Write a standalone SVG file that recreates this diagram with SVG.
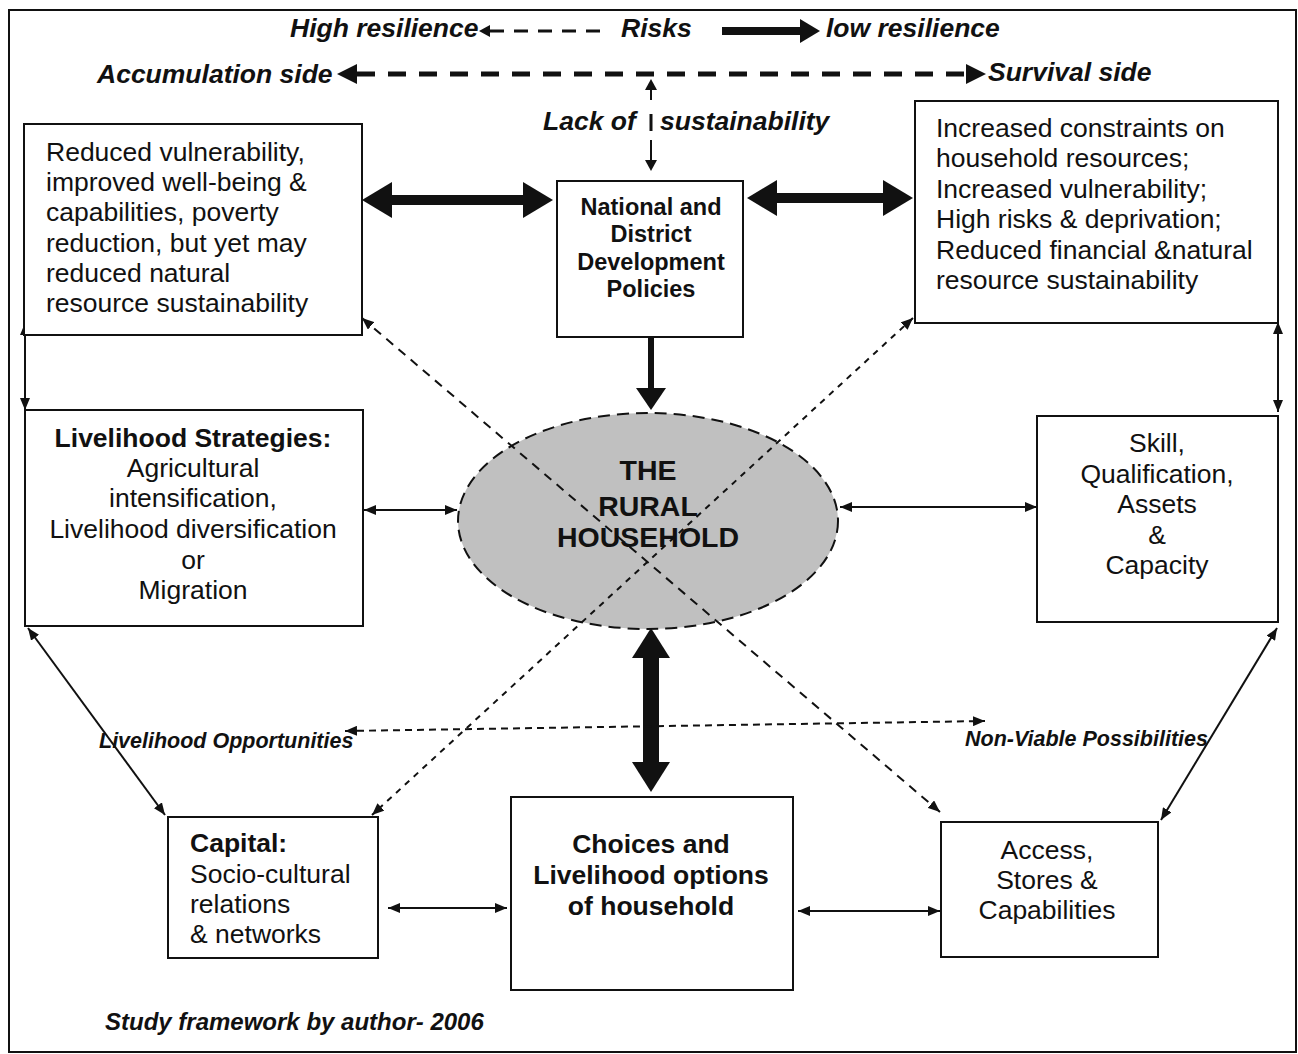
<svg xmlns="http://www.w3.org/2000/svg" width="1298" height="1054" viewBox="0 0 1298 1054">
<style>
text{font-family:"Liberation Sans",Arial,sans-serif;fill:#111}
.t{font-size:26.5px}
.b{font-weight:bold}
.i{font-style:italic;font-weight:bold}
.h{font-size:26.5px}
.c{text-anchor:middle}
.box{fill:#fff;stroke:#111;stroke-width:2}
.ln{stroke:#111;fill:none}
</style>
<defs>
<marker id="s" viewBox="0 0 12 10" refX="12" refY="5" markerWidth="12" markerHeight="10" markerUnits="userSpaceOnUse" orient="auto-start-reverse"><path d="M0,0 L12,5 L0,10 z" fill="#111"/></marker>
<marker id="hb" viewBox="0 0 30 36" refX="0" refY="18" markerWidth="30" markerHeight="36" markerUnits="userSpaceOnUse" orient="auto-start-reverse"><path d="M0,0 L30,18 L0,36 z" fill="#111"/></marker>
<marker id="hv" viewBox="0 0 30 38" refX="0" refY="19" markerWidth="30" markerHeight="38" markerUnits="userSpaceOnUse" orient="auto-start-reverse"><path d="M0,0 L30,19 L0,38 z" fill="#111"/></marker>
<marker id="hd" viewBox="0 0 22 30" refX="0" refY="15" markerWidth="22" markerHeight="30" markerUnits="userSpaceOnUse" orient="auto-start-reverse"><path d="M0,0 L22,15 L0,30 z" fill="#111"/></marker>
<marker id="ht" viewBox="0 0 20 20" refX="0" refY="10" markerWidth="20" markerHeight="20" markerUnits="userSpaceOnUse" orient="auto-start-reverse"><path d="M0,0 L20,10 L0,20 z" fill="#111"/></marker>
<marker id="hr" viewBox="0 0 20 24" refX="0" refY="12" markerWidth="20" markerHeight="24" markerUnits="userSpaceOnUse" orient="auto-start-reverse"><path d="M0,0 L20,12 L0,24 z" fill="#111"/></marker>
<marker id="hm" viewBox="0 0 11 12" refX="0" refY="6" markerWidth="11" markerHeight="12" markerUnits="userSpaceOnUse" orient="auto-start-reverse"><path d="M0,0 L11,6 L0,12 z" fill="#111"/></marker>
</defs>
<rect x="0" y="0" width="1298" height="1054" fill="#fff"/>
<rect x="9" y="10" width="1287" height="1042" fill="none" stroke="#111" stroke-width="2"/>

<g id="header">
<text class="i h" x="290" y="37">High resilience</text>
<text class="i h" x="621" y="37">Risks</text>
<text class="i h" x="826" y="37">low resilience</text>
<text class="i h" x="97" y="83">Accumulation side</text>
<text class="i h" x="988" y="81">Survival side</text>
<text class="i h" x="543" y="130">Lack of</text>
<text class="i h" x="660" y="130">sustainability</text>
<text class="i" x="99" y="748" font-size="21.5px">Livelihood Opportunities</text>
<text class="i" x="965" y="746" font-size="21.5px">Non-Viable Possibilities</text>
<text class="i" x="105" y="1030" font-size="24px">Study framework by author- 2006</text>
</g>

<g id="connectors">
<line class="ln" x1="490" y1="31" x2="602" y2="31" stroke-width="3" stroke-dasharray="14 10" marker-start="url(#hm)"/>
<line class="ln" x1="722" y1="31" x2="800" y2="31" stroke-width="8" marker-end="url(#hr)"/>
<line class="ln" x1="357" y1="74" x2="966" y2="74" stroke-width="5" stroke-dasharray="18 13" marker-start="url(#ht)" marker-end="url(#ht)"/>
<line class="ln" x1="651" y1="100" x2="651" y2="90" stroke-width="2" marker-end="url(#hm)"/>
<line class="ln" x1="651" y1="114" x2="651" y2="131" stroke-width="3"/>
<line class="ln" x1="651" y1="140" x2="651" y2="160" stroke-width="2" marker-end="url(#hm)"/>
<line class="ln" x1="392" y1="200" x2="523" y2="200" stroke-width="10" marker-start="url(#hb)" marker-end="url(#hb)"/>
<line class="ln" x1="777" y1="198" x2="883" y2="198" stroke-width="10" marker-start="url(#hb)" marker-end="url(#hb)"/>
<line class="ln" x1="651" y1="337" x2="651" y2="388" stroke-width="6" marker-end="url(#hd)"/>
<line class="ln" x1="651" y1="658" x2="651" y2="762" stroke-width="16" marker-start="url(#hv)" marker-end="url(#hv)"/>
<line class="ln" x1="25" y1="323" x2="25" y2="410" stroke-width="2" marker-start="url(#s)" marker-end="url(#s)"/>
<line class="ln" x1="1278" y1="322" x2="1278" y2="412" stroke-width="2" marker-start="url(#s)" marker-end="url(#s)"/>
<line class="ln" x1="364" y1="510" x2="457" y2="510" stroke-width="2" marker-start="url(#s)" marker-end="url(#s)"/>
<line class="ln" x1="840" y1="507" x2="1037" y2="507" stroke-width="2" marker-start="url(#s)" marker-end="url(#s)"/>
<line class="ln" x1="28" y1="628" x2="165" y2="815" stroke-width="2" marker-start="url(#s)" marker-end="url(#s)"/>
<line class="ln" x1="1277" y1="628" x2="1161" y2="820" stroke-width="2" marker-start="url(#s)" marker-end="url(#s)"/>
<line class="ln" x1="388" y1="908" x2="507" y2="908" stroke-width="2" marker-start="url(#s)" marker-end="url(#s)"/>
<line class="ln" x1="798" y1="911" x2="940" y2="911" stroke-width="2" marker-start="url(#s)" marker-end="url(#s)"/>
</g>

<g id="household">
<ellipse cx="648" cy="521" rx="190" ry="108" fill="#c0c0c0" stroke="#111" stroke-width="2" stroke-dasharray="12 7"/>
<text class="b c" x="648" y="480" font-size="28.5">THE</text>
<text class="b c" x="648" y="516" font-size="28.5">RURAL</text>
<text class="b c" x="648" y="547" font-size="28.5">HOUSEHOLD</text>
</g>

<g id="connectors-dashed">
<line class="ln" x1="362" y1="318" x2="940" y2="812" stroke-width="2" stroke-dasharray="9 7" marker-start="url(#s)" marker-end="url(#s)"/>
<line class="ln" x1="913" y1="318" x2="372" y2="815" stroke-width="2" stroke-dasharray="6 6" marker-start="url(#s)" marker-end="url(#s)"/>
<line class="ln" x1="345" y1="731" x2="985" y2="721" stroke-width="2" stroke-dasharray="7 5" marker-start="url(#s)" marker-end="url(#s)"/>
</g>

<g id="accumulation">
<rect class="box" x="24" y="124" width="338" height="211"/>
<text class="t" x="46" y="161">Reduced vulnerability,</text>
<text class="t" x="46" y="191">improved well-being &amp;</text>
<text class="t" x="46" y="221">capabilities, poverty</text>
<text class="t" x="46" y="252">reduction, but yet may</text>
<text class="t" x="46" y="282">reduced natural</text>
<text class="t" x="46" y="312">resource sustainability</text>
</g>

<g id="policies">
<rect class="box" x="557" y="181" width="186" height="156"/>
<text class="b c" x="651" y="215" font-size="23.5">National and</text>
<text class="b c" x="651" y="242" font-size="23.5">District</text>
<text class="b c" x="651" y="270" font-size="23.5">Development</text>
<text class="b c" x="651" y="297" font-size="23.5">Policies</text>
</g>

<g id="survival">
<rect class="box" x="915" y="101" width="363" height="222"/>
<text class="t" x="936" y="137">Increased constraints on</text>
<text class="t" x="936" y="167">household resources;</text>
<text class="t" x="936" y="198">Increased vulnerability;</text>
<text class="t" x="936" y="228">High risks &amp; deprivation;</text>
<text class="t" x="936" y="259">Reduced financial &amp;natural</text>
<text class="t" x="936" y="289">resource sustainability</text>
</g>

<g id="strategies">
<rect class="box" x="25" y="410" width="338" height="216"/>
<text class="t b c" x="193" y="447">Livelihood Strategies:</text>
<text class="t c" x="193" y="477">Agricultural</text>
<text class="t c" x="193" y="507">intensification,</text>
<text class="t c" x="193" y="538">Livelihood diversification</text>
<text class="t c" x="193" y="569">or</text>
<text class="t c" x="193" y="599">Migration</text>
</g>

<g id="skill">
<rect class="box" x="1037" y="416" width="241" height="206"/>
<text class="t c" x="1157" y="452">Skill,</text>
<text class="t c" x="1157" y="483">Qualification,</text>
<text class="t c" x="1157" y="513">Assets</text>
<text class="t c" x="1157" y="544">&amp;</text>
<text class="t c" x="1157" y="574">Capacity</text>
</g>

<g id="capital">
<rect class="box" x="168" y="817" width="210" height="141"/>
<text class="t b" x="190" y="852">Capital:</text>
<text class="t" x="190" y="883">Socio-cultural</text>
<text class="t" x="190" y="913">relations</text>
<text class="t" x="190" y="943"> &amp; networks</text>
</g>

<g id="choices">
<rect class="box" x="511" y="797" width="282" height="193"/>
<text class="t b c" x="651" y="853">Choices and</text>
<text class="t b c" x="651" y="884">Livelihood options</text>
<text class="t b c" x="651" y="915">of household</text>
</g>

<g id="access">
<rect class="box" x="941" y="822" width="217" height="135"/>
<text class="t c" x="1047" y="859">Access,</text>
<text class="t c" x="1047" y="889">Stores &amp;</text>
<text class="t c" x="1047" y="919">Capabilities</text>
</g>
</svg>
